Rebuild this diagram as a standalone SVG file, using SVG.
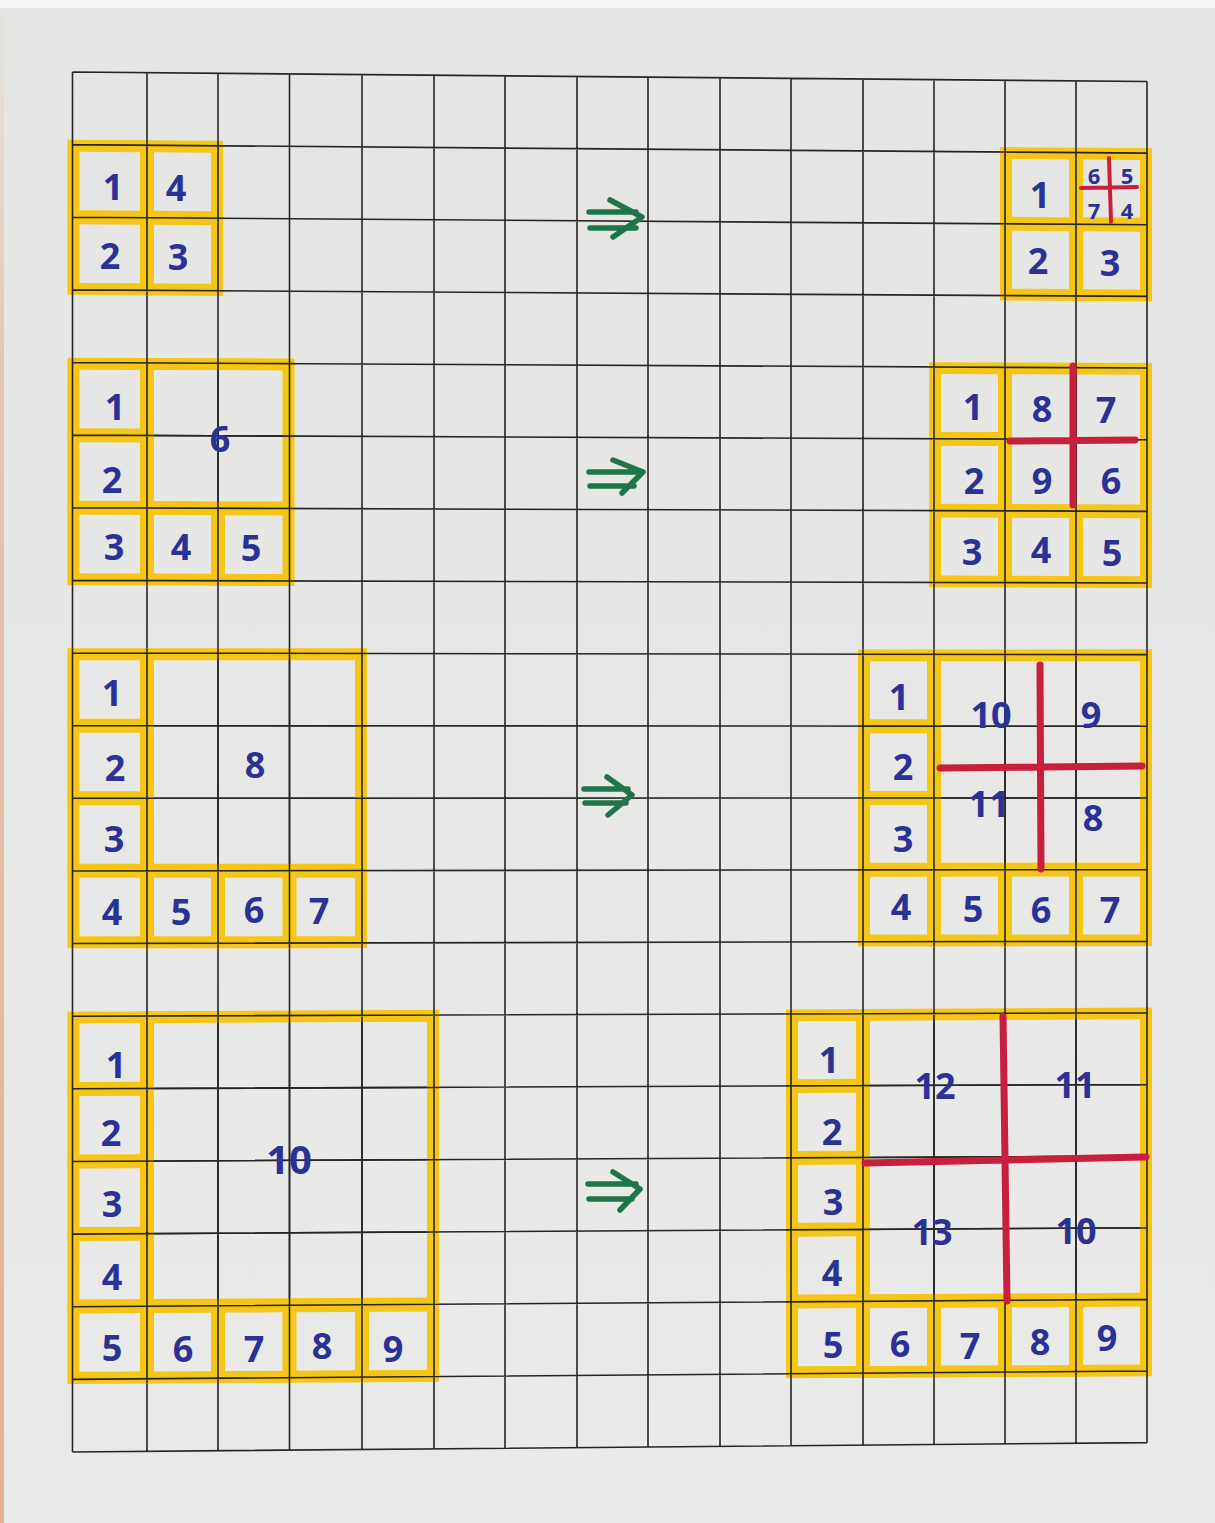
<svg xmlns="http://www.w3.org/2000/svg" xmlns:xlink="http://www.w3.org/1999/xlink" width="1215" height="1523" viewBox="0 0 1215 1523">
<defs>
<linearGradient id="paperG" x1="0" y1="0" x2="0" y2="1">
<stop offset="0" stop-color="#e5e5e3"/>
<stop offset="1" stop-color="#eaeae8"/>
</linearGradient>
<linearGradient id="edgeG" x1="0" y1="0" x2="0" y2="1">
<stop offset="0" stop-color="#e49a6a" stop-opacity="0"/>
<stop offset="0.25" stop-color="#e49a6a" stop-opacity="0.45"/>
<stop offset="1" stop-color="#e08a5a" stop-opacity="0.6"/>
</linearGradient>
<path id="gridlines" class="grid" d="M72.5 72 L1147 81.5 M72.5 144.63 L1147 153.14 M72.5 217.26 L1147 224.78 M72.5 289.89 L1147 296.42 M72.5 362.52 L1147 368.06 M72.5 435.15 L1147 439.7 M72.5 507.78 L1147 511.34 M72.5 580.41 L1147 582.98 M72.5 653.04 L1147 654.62 M72.5 725.67 L1147 726.26 M72.5 798.3 L1147 797.9 M72.5 870.93 L1147 869.54 M72.5 943.56 L1147 941.18 M72.5 1016.19 L1147 1012.82 M72.5 1088.82 L1147 1084.46 M72.5 1161.45 L1147 1156.1 M72.5 1234.08 L1147 1227.74 M72.5 1306.71 L1147 1299.38 M72.5 1379.34 L1147 1371.02 M72.5 1451.97 L1147 1442.66
M72.5 72 L72.5 1452 M147 72.66 L147 1451.32 M218 73.29 L218 1450.71 M289.5 73.92 L289.5 1450.09 M362 74.56 L362 1449.46 M434 75.2 L434 1448.84 M505 75.83 L505 1448.22 M577 76.46 L577 1447.6 M648 77.09 L648 1446.99 M720 77.73 L720 1446.36 M791 78.35 L791 1445.75 M863 78.99 L863 1445.13 M934 79.62 L934 1444.51 M1005 80.25 L1005 1443.9 M1076 80.87 L1076 1443.29 M1147 81.5 L1147 1442.67"/>
<clipPath id="cA1"><rect x="67" y="139.5" width="156.5" height="155.5" transform="matrix(1 0.006995 0 0.99907 0 -0.302)"/></clipPath>
<clipPath id="cA2"><rect x="1000" y="139.5" width="152" height="155.5" transform="matrix(1 0.006995 0 0.987269 0 2.26)"/></clipPath>
<clipPath id="cB1"><rect x="67" y="357.5" width="228" height="228" transform="matrix(1 0.003771 0 0.998618 0 0.379)"/></clipPath>
<clipPath id="cB2"><rect x="929" y="357.5" width="223" height="228" transform="matrix(1 0.003771 0 0.987719 0 5.516)"/></clipPath>
<clipPath id="cC1"><rect x="67" y="648" width="300" height="300.5" transform="matrix(1 -0.000372 0 0.998161 0 1.498)"/></clipPath>
<clipPath id="cC2"><rect x="858" y="648" width="294" height="300.5" transform="matrix(1 -0.000372 0 0.98817 0 9.468)"/></clipPath>
<clipPath id="cD1"><rect x="67" y="1011" width="372" height="373.5" transform="matrix(1 -0.005435 0 0.997705 0 3.143)"/></clipPath>
<clipPath id="cD2"><rect x="786" y="1011" width="366" height="373.5" transform="matrix(1 -0.005435 0 0.988626 0 14.008)"/></clipPath>
</defs>
<style>
.grid{fill:none;stroke:#262626;stroke-width:1.6}
.cell{fill:none;stroke:#f5c518;stroke-width:12}
.ink{font-family:"Open Sans","Liberation Sans",sans-serif;font-weight:700;font-size:36px;fill:#2c3196;text-anchor:middle}
.sm{font-size:22px}
.big{font-size:40px}
.red{fill:none;stroke:#c81f3e;stroke-width:7;stroke-linecap:round}
.red.thin{stroke-width:4}
.arrow{fill:none;stroke:#1e7548;stroke-width:5.5;stroke-linecap:round;stroke-linejoin:round}
</style>

<g id="paper">
<rect x="0" y="0" width="1215" height="1523" fill="url(#paperG)"/>
<rect x="0" y="0" width="1215" height="8" fill="#f5f5f3"/>
<rect x="0" y="0" width="4" height="1523" fill="url(#edgeG)"/>
<use xlink:href="#gridlines" href="#gridlines"/>
</g>

<g id="box1-left">
<g transform="matrix(1 0.006995 0 0.99907 0 -0.302)">
<rect class="cell" x="73.5" y="145.6" width="72.5" height="70.6"/>
<rect class="cell" x="148" y="145.6" width="69" height="70.6"/>
<rect class="cell" x="73.5" y="218.3" width="72.5" height="70.6"/>
<rect class="cell" x="148" y="218.3" width="69" height="70.6"/>
</g>
<use xlink:href="#gridlines" href="#gridlines" clip-path="url(#cA1)"/>
<text class="ink" x="113" y="200">1</text>
<text class="ink" x="176" y="201">4</text>
<text class="ink" x="110" y="269">2</text>
<text class="ink" x="178" y="270">3</text>
</g>

<g id="box1-right">
<g transform="matrix(1 0.006995 0 0.987269 0 2.26)">
<rect class="cell" x="1006" y="145.6" width="69" height="70.6"/>
<rect class="cell" x="1077" y="145.6" width="69" height="70.6"/>
<rect class="cell" x="1006" y="218.3" width="69" height="70.6"/>
<rect class="cell" x="1077" y="218.3" width="69" height="70.6"/>
</g>
<use xlink:href="#gridlines" href="#gridlines" clip-path="url(#cA2)"/>
<path class="red thin" d="M1081 188 L1137 187 M1109 158 L1111 222"/>
<text class="ink" x="1040" y="208">1</text>
<text class="ink" x="1038" y="274">2</text>
<text class="ink" x="1110" y="276">3</text>
<text class="ink sm" x="1094" y="184">6</text>
<text class="ink sm" x="1127" y="184">5</text>
<text class="ink sm" x="1094" y="219">7</text>
<text class="ink sm" x="1127" y="219">4</text>
</g>

<g id="box2-left">
<g transform="matrix(1 0.003771 0 0.998618 0 0.379)">
<rect class="cell" x="73.5" y="363.5" width="72.5" height="70.6"/>
<rect class="cell" x="73.5" y="436.2" width="72.5" height="70.6"/>
<rect class="cell" x="148" y="363.5" width="140.5" height="143.3"/>
<rect class="cell" x="73.5" y="508.8" width="72.5" height="70.6"/>
<rect class="cell" x="148" y="508.8" width="69" height="70.6"/>
<rect class="cell" x="219" y="508.8" width="69.5" height="70.6"/>
</g>
<use xlink:href="#gridlines" href="#gridlines" clip-path="url(#cB1)"/>
<text class="ink" x="115" y="420">1</text>
<text class="ink" x="112" y="493">2</text>
<text class="ink" x="220" y="452">6</text>
<text class="ink" x="114" y="560">3</text>
<text class="ink" x="181" y="560">4</text>
<text class="ink" x="251" y="561">5</text>
</g>

<g id="box2-right">
<g transform="matrix(1 0.003771 0 0.987719 0 5.516)">
<rect class="cell" x="935" y="363.5" width="69" height="70.6"/>
<rect class="cell" x="935" y="436.2" width="69" height="70.6"/>
<rect class="cell" x="1006" y="363.5" width="140" height="143.3"/>
<rect class="cell" x="935" y="508.8" width="69" height="70.6"/>
<rect class="cell" x="1006" y="508.8" width="69" height="70.6"/>
<rect class="cell" x="1077" y="508.8" width="69" height="70.6"/>
</g>
<use xlink:href="#gridlines" href="#gridlines" clip-path="url(#cB2)"/>
<path class="red" d="M1010 441 L1135 440 M1073 366 L1073 505"/>
<text class="ink" x="973" y="420">1</text>
<text class="ink" x="1042" y="422">8</text>
<text class="ink" x="1106" y="423">7</text>
<text class="ink" x="974" y="494">2</text>
<text class="ink" x="1042" y="494">9</text>
<text class="ink" x="1111" y="494">6</text>
<text class="ink" x="972" y="565">3</text>
<text class="ink" x="1041" y="563">4</text>
<text class="ink" x="1112" y="566">5</text>
</g>

<g id="box3-left">
<g transform="matrix(1 -0.000372 0 0.998161 0 1.498)">
<rect class="cell" x="73.5" y="654" width="72.5" height="70.6"/>
<rect class="cell" x="73.5" y="726.7" width="72.5" height="70.6"/>
<rect class="cell" x="73.5" y="799.3" width="72.5" height="70.6"/>
<rect class="cell" x="148" y="654" width="213" height="215.9"/>
<rect class="cell" x="73.5" y="871.9" width="72.5" height="70.6"/>
<rect class="cell" x="148" y="871.9" width="69" height="70.6"/>
<rect class="cell" x="219" y="871.9" width="69.5" height="70.6"/>
<rect class="cell" x="290.5" y="871.9" width="70.5" height="70.6"/>
</g>
<use xlink:href="#gridlines" href="#gridlines" clip-path="url(#cC1)"/>
<text class="ink" x="112" y="706">1</text>
<text class="ink" x="115" y="781">2</text>
<text class="ink" x="114" y="852">3</text>
<text class="ink" x="112" y="925">4</text>
<text class="ink" x="181" y="925">5</text>
<text class="ink" x="254" y="923">6</text>
<text class="ink" x="319" y="924">7</text>
<text class="ink" x="255" y="778">8</text>
</g>

<g id="box3-right">
<g transform="matrix(1 -0.000372 0 0.98817 0 9.468)">
<rect class="cell" x="864" y="654" width="69" height="70.6"/>
<rect class="cell" x="864" y="726.7" width="69" height="70.6"/>
<rect class="cell" x="864" y="799.3" width="69" height="70.6"/>
<rect class="cell" x="935" y="654" width="211" height="215.9"/>
<rect class="cell" x="864" y="871.9" width="69" height="70.6"/>
<rect class="cell" x="935" y="871.9" width="69" height="70.6"/>
<rect class="cell" x="1006" y="871.9" width="69" height="70.6"/>
<rect class="cell" x="1077" y="871.9" width="69" height="70.6"/>
</g>
<use xlink:href="#gridlines" href="#gridlines" clip-path="url(#cC2)"/>
<path class="red" d="M940 768 L1142 766 M1040 665 L1041 869"/>
<text class="ink" x="899" y="710">1</text>
<text class="ink" x="903" y="780">2</text>
<text class="ink" x="903" y="852">3</text>
<text class="ink" x="901" y="920">4</text>
<text class="ink" x="973" y="922">5</text>
<text class="ink" x="1041" y="923">6</text>
<text class="ink" x="1110" y="923">7</text>
<text class="ink" x="991" y="728">10</text>
<text class="ink" x="1091" y="728">9</text>
<text class="ink" x="989" y="817">11</text>
<text class="ink" x="1093" y="831">8</text>
</g>

<g id="box4-left">
<g transform="matrix(1 -0.005435 0 0.997705 0 3.143)">
<rect class="cell" x="73.5" y="1017.2" width="72.5" height="70.6"/>
<rect class="cell" x="73.5" y="1089.8" width="72.5" height="70.6"/>
<rect class="cell" x="73.5" y="1162.5" width="72.5" height="70.6"/>
<rect class="cell" x="73.5" y="1235.1" width="72.5" height="70.6"/>
<rect class="cell" x="148" y="1017.2" width="285" height="288.5"/>
<rect class="cell" x="73.5" y="1307.7" width="72.5" height="70.6"/>
<rect class="cell" x="148" y="1307.7" width="69" height="70.6"/>
<rect class="cell" x="219" y="1307.7" width="69.5" height="70.6"/>
<rect class="cell" x="290.5" y="1307.7" width="70.5" height="70.6"/>
<rect class="cell" x="363" y="1307.7" width="70" height="70.6"/>
</g>
<use xlink:href="#gridlines" href="#gridlines" clip-path="url(#cD1)"/>
<text class="ink" x="116" y="1078">1</text>
<text class="ink" x="111" y="1146">2</text>
<text class="ink" x="112" y="1217">3</text>
<text class="ink" x="112" y="1290">4</text>
<text class="ink" x="112" y="1361">5</text>
<text class="ink" x="183" y="1362">6</text>
<text class="ink" x="254" y="1362">7</text>
<text class="ink" x="322" y="1359">8</text>
<text class="ink" x="393" y="1362">9</text>
<text class="ink big" x="289" y="1174">10</text>
</g>

<g id="box4-right">
<g transform="matrix(1 -0.005435 0 0.988626 0 14.008)">
<rect class="cell" x="792" y="1017.2" width="70" height="70.6"/>
<rect class="cell" x="792" y="1089.8" width="70" height="70.6"/>
<rect class="cell" x="792" y="1162.5" width="70" height="70.6"/>
<rect class="cell" x="792" y="1235.1" width="70" height="70.6"/>
<rect class="cell" x="864" y="1017.2" width="282" height="288.5"/>
<rect class="cell" x="792" y="1307.7" width="70" height="70.6"/>
<rect class="cell" x="864" y="1307.7" width="69" height="70.6"/>
<rect class="cell" x="935" y="1307.7" width="69" height="70.6"/>
<rect class="cell" x="1006" y="1307.7" width="69" height="70.6"/>
<rect class="cell" x="1077" y="1307.7" width="69" height="70.6"/>
</g>
<use xlink:href="#gridlines" href="#gridlines" clip-path="url(#cD2)"/>
<path class="red" d="M865 1163 L1146 1157 M1003 1016 L1007 1301"/>
<text class="ink" x="829" y="1073">1</text>
<text class="ink" x="832" y="1145">2</text>
<text class="ink" x="833" y="1215">3</text>
<text class="ink" x="832" y="1286">4</text>
<text class="ink" x="833" y="1358">5</text>
<text class="ink" x="900" y="1357">6</text>
<text class="ink" x="970" y="1359">7</text>
<text class="ink" x="1040" y="1355">8</text>
<text class="ink" x="1107" y="1351">9</text>
<text class="ink" x="935" y="1099">12</text>
<text class="ink" x="1075" y="1098">11</text>
<text class="ink" x="932" y="1245">13</text>
<text class="ink" x="1076" y="1244">10</text>
</g>

<g id="connectors">
<path class="arrow" d="M589 212 L636 212 M590 228 L636 228 M610 200 L642 217 L613 237"/>
<path class="arrow" d="M589 472 L636 472 M590 486 L634 486 M613 460 L643 472 L622 493"/>
<path class="arrow" d="M584 789 L628 789 M585 803 L626 803 M607 777 L632 795 L608 815"/>
<path class="arrow" d="M588 1184 L636 1184 M589 1199 L632 1199 M613 1172 L640 1189 L620 1210"/>
</g>
</svg>
